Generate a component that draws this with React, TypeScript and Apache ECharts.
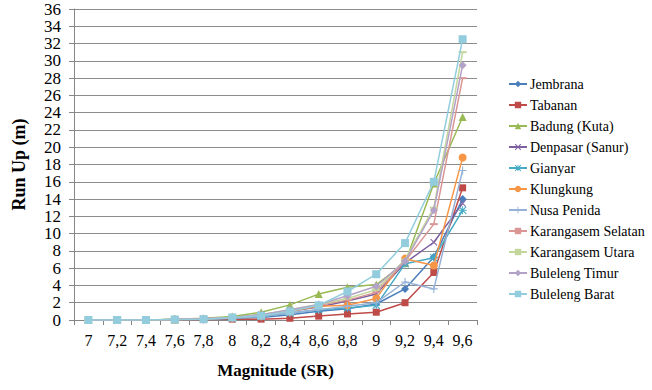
import React, { useEffect, useRef } from "react";
import * as echarts from "echarts";

const categories = ["7", "7,2", "7,4", "7,6", "7,8", "8", "8,2", "8,4", "8,6", "8,8", "9", "9,2", "9,4", "9,6"];

const jembrana = [0, 0, 0, 0.05, 0.1, 0.2, 0.3, 0.6, 1.0, 1.3, 1.85, 3.6, 7.3, 14.0];
const tabanan = [0, 0, 0, 0.02, 0.05, 0.1, 0.1, 0.2, 0.45, 0.7, 0.9, 2.0, 5.5, 15.3];
const badung = [0, 0, 0, 0.1, 0.2, 0.4, 0.9, 1.75, 3.0, 3.8, 4.1, 6.6, 15.8, 23.5];
const denpasar = [0, 0, 0, 0.05, 0.15, 0.3, 0.6, 1.0, 1.5, 2.2, 3.0, 6.6, 9.0, 13.5];
const gianyar = [0, 0, 0, 0.05, 0.1, 0.2, 0.4, 0.8, 1.2, 1.4, 1.7, 6.5, 7.2, 12.7];
const klungkung = [0, 0, 0, 0.05, 0.1, 0.25, 0.5, 1.0, 1.6, 1.7, 2.5, 7.1, 6.3, 18.8];
const nusaPenida = [0, 0, 0, 0.05, 0.1, 0.2, 0.4, 0.8, 1.2, 1.6, 2.0, 4.4, 3.6, 17.3];
const karangasemSelatan = [0, 0, 0, 0.05, 0.15, 0.3, 0.6, 1.1, 1.7, 2.3, 3.2, 6.8, 11.1, 28.0];
const karangasemUtara = [0, 0, 0, 0.05, 0.15, 0.3, 0.6, 1.2, 1.8, 2.5, 3.5, 7.0, 13.0, 31.0];
const bulelengTimur = [0, 0, 0, 0.05, 0.15, 0.3, 0.6, 1.2, 1.8, 2.8, 3.9, 6.8, 12.7, 29.5];
const bulelengBarat = [0, 0, 0, 0.05, 0.1, 0.3, 0.5, 1.0, 1.7, 3.3, 5.3, 8.9, 16.0, 32.5];

const seriesNames = [
  "Jembrana",
  "Tabanan",
  "Badung (Kuta)",
  "Denpasar (Sanur)",
  "Gianyar",
  "Klungkung",
  "Nusa Penida",
  "Karangasem Selatan",
  "Karangasem Utara",
  "Buleleng Timur",
  "Buleleng Barat",
];
const seriesData = [
  jembrana, tabanan, badung, denpasar, gianyar, klungkung,
  nusaPenida, karangasemSelatan, karangasemUtara, bulelengTimur, bulelengBarat,
];
const colors = [
  "#4A7EBB", "#BE4B48", "#98B954", "#7D60A0", "#46AAC5", "#F79646",
  "#95B3D7", "#D99694", "#C3D69B", "#B3A2C7", "#93CDDD",
];
const X_PATH = "path://M1,0L5,4L9,0L10,1L6,5L10,9L9,10L5,6L1,10L0,9L4,5L0,1Z";
const PLUS_PATH = "path://M4.3,0H5.7V4.3H10V5.7H5.7V10H4.3V5.7H0V4.3H4.3Z";
const STAR_PATH = "path://M4.4,0H5.6V4.4H10V5.6H5.6V10H4.4V5.6H0V4.4H4.4Z M1,0L5,4L9,0L10,1L6,5L10,9L9,10L5,6L1,10L0,9L4,5L0,1Z";
const DASH_PATH = "path://M0,0H10V1.6H0Z";
const symbols = [
  "diamond", "rect", "triangle", X_PATH, STAR_PATH, "circle",
  PLUS_PATH, DASH_PATH, DASH_PATH, "diamond", "rect",
];
const symbolSizes = [8, 7, 8, 7, 8, 8, 8, [8, 2], [8, 2], 8, 8];

export default function App() {
  const ref = useRef<HTMLDivElement>(null);
  useEffect(() => {
    if (!ref.current) return;
    const chart = echarts.init(ref.current, undefined, { renderer: "svg" });
    const font = "Times New Roman";
    chart.setOption({
      animation: false,
      color: colors,
      textStyle: { fontFamily: font },
      grid: { left: 74, right: 175, top: 9, bottom: 70, containLabel: false },
      legend: {
        orient: "vertical",
        left: 503,
        top: 72,
        itemWidth: 18,
        itemHeight: 8,
        itemGap: 7.0,
        textStyle: { fontFamily: font, fontSize: 14, color: "#000", padding: [0, 0, 0, -2] },
        data: seriesNames,
      },
      xAxis: {
        type: "category",
        data: categories,
        boundaryGap: true,
        name: "Magnitude (SR)",
        nameLocation: "middle",
        nameGap: 42,
        nameTextStyle: { fontFamily: font, fontSize: 17, fontWeight: "bold", color: "#000" },
        axisLine: { lineStyle: { color: "#868686" } },
        axisTick: { show: true, lineStyle: { color: "#868686" }, length: 5 },
        axisLabel: { fontFamily: font, fontSize: 16, color: "#000", margin: 12, interval: 0 },
      },
      yAxis: {
        type: "value",
        min: 0,
        max: 36,
        interval: 2,
        name: "Run Up (m)",
        nameLocation: "middle",
        nameGap: 46,
        nameRotate: 90,
        nameTextStyle: { fontFamily: font, fontSize: 18, fontWeight: "bold", color: "#000" },
        axisLine: { show: true, lineStyle: { color: "#868686" } },
        axisTick: { show: true, length: 5, lineStyle: { color: "#868686" } },
        axisLabel: { fontFamily: font, fontSize: 17, color: "#000", margin: 13 },
        splitLine: { lineStyle: { color: "#8c8c8c", width: 1 } },
      },
      series: seriesNames.map((name, i) => ({
        name,
        type: "line",
        data: seriesData[i],
        symbol: symbols[i],
        symbolSize: symbolSizes[i],
        showSymbol: true,
        lineStyle: { width: 1.5, color: colors[i] },
        itemStyle: { color: colors[i] },
        z: 2 + i,
      })),
    });
    return () => chart.dispose();
  }, []);
  return <div ref={ref} style={{ position: "fixed", left: 0, top: 0, width: 652, height: 390, background: "#fff" }} />;
}
